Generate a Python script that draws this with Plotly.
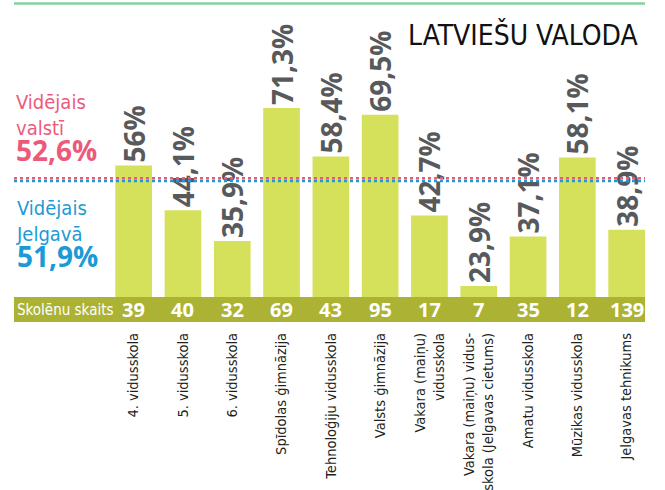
import plotly.graph_objects as go

categories = ["4. vidusskola", "5. vidusskola", "6. vidusskola", "Spīdolas ģimnāzija",
              "Tehnoloģiju vidusskola", "Valsts ģimnāzija", "Vakara (maiņu)<br>vidusskola",
              "Vakara (maiņu) vidus-<br>skola (Jelgavas cietums)", "Amatu vidusskola",
              "Mūzikas vidusskola", "Jelgavas tehnikums"]
values = [56.0, 44.1, 35.9, 71.3, 58.4, 69.5, 42.7, 23.9, 37.1, 58.1, 38.9]
value_labels = ["56%", "44,1%", "35,9%", "71,3%", "58,4%", "69,5%", "42,7%", "23,9%", "37,1%", "58,1%", "38,9%"]
students = [39, 40, 32, 69, 43, 95, 17, 7, 35, 12, 139]
avg_country = 52.6
avg_city = 51.9
avg_country_label = "52,6%"
avg_city_label = "51,9%"
avg_country_text = "Vidējais<br>valstī"
avg_city_text = "Vidējais<br>Jelgavā"
title = "LATVIEŠU VALODA"

W, H = 665, 490
L, R, T, B = 109, 20, 10, 193
PW, PH = W - L - R, H - T - B
YMIN = 21.0
YMAX = YMIN + PH / 3.757

def px(x):
    return (x - L) / PW

def py(y):
    return (H - B - y) / PH

NARROW = "Noto Sans Condensed, DejaVu Sans Condensed, Roboto Condensed, Lato, sans-serif"
BOLD = "Open Sans, sans-serif"
PINK = "#ec5a7b"
BLUE = "#1b9ad6"
BAR = "#d5e05b"
BAND = "#acb334"
GRAY = "#58595b"

x_idx = list(range(len(categories)))

fig = go.Figure()
fig.add_trace(go.Bar(
    x=x_idx, y=[v - YMIN for v in values], marker=dict(color=BAR, line=dict(width=0)),
    text=value_labels, textposition="outside", textangle=-90,
    textfont=dict(family=BOLD, size=28, color=GRAY, weight="bold"),
    constraintext="none", cliponaxis=False, width=0.744, hoverinfo="skip",
))

shapes = [
    dict(type="line", xref="paper", yref="paper", x0=px(14), x1=px(645), y0=py(3.5), y1=py(3.5),
         line=dict(color="#86d19c", width=2.5)),
    dict(type="rect", xref="paper", yref="paper", x0=px(14), x1=px(645), y0=py(322), y1=py(297),
         fillcolor=BAND, line=dict(width=0), layer="below"),
    dict(type="line", xref="paper", yref="y", x0=px(14), x1=px(645),
         y0=avg_city - YMIN, y1=avg_city - YMIN,
         line=dict(color=BLUE, width=2.5, dash="dot")),
    dict(type="line", xref="paper", yref="y", x0=px(14), x1=px(645),
         y0=avg_country - YMIN, y1=avg_country - YMIN,
         line=dict(color=PINK, width=2.5, dash="dot")),
]

ann = []
ann.append(dict(text=title, xref="paper", yref="paper", x=px(641), y=py(35), xanchor="right",
                yanchor="middle", showarrow=False, font=dict(family=NARROW, size=28, color="#111111")))

def left_block(txt, value_txt, ytop, color):
    big = ("<span style=\"font-family:'Open Sans',sans-serif;font-weight:bold;font-size:28px\">"
           + value_txt + "</span>")
    ann.append(dict(text=txt + "<br>" + big, xref="paper", yref="paper", x=px(14), y=py(ytop),
                    xanchor="left", yanchor="top", align="left", showarrow=False,
                    font=dict(family=NARROW, size=20, color=color)))

left_block(avg_country_text, avg_country_label, 87.5, PINK)
left_block(avg_city_text, avg_city_label, 193.5, BLUE)

ann.append(dict(text="Skolēnu skaits", xref="paper", yref="paper", x=px(15), y=py(309.5),
                xanchor="left", yanchor="middle", showarrow=False,
                font=dict(family=NARROW, size=15, color="white")))
for i, s in zip(x_idx, students):
    ann.append(dict(text=str(s), xref="x", yref="paper", x=i, y=py(309.5), xanchor="center",
                    yanchor="middle", showarrow=False,
                    font=dict(family=BOLD, size=20, color="white", weight="bold")))

fig.update_layout(
    width=W, height=H, margin=dict(l=L, r=R, t=T, b=B, autoexpand=False),
    paper_bgcolor="white", plot_bgcolor="white", showlegend=False,
    shapes=shapes, annotations=ann, bargap=0.256,
    xaxis=dict(range=[-0.5, -0.5 + PW / 49.3], tickmode="array", tickvals=x_idx, ticktext=categories,
               tickangle=-90, showgrid=False, zeroline=False, showline=False, ticks="",
               ticklabelstandoff=32, automargin=False,
               tickfont=dict(family=NARROW, size=14.5, color="#231f20")),
    yaxis=dict(range=[0, YMAX - YMIN], visible=False, showgrid=False, zeroline=False),
)

fig.write_html("out.html", config={"displayModeBar": False},
               post_script="document.body.style.margin='0px';")
